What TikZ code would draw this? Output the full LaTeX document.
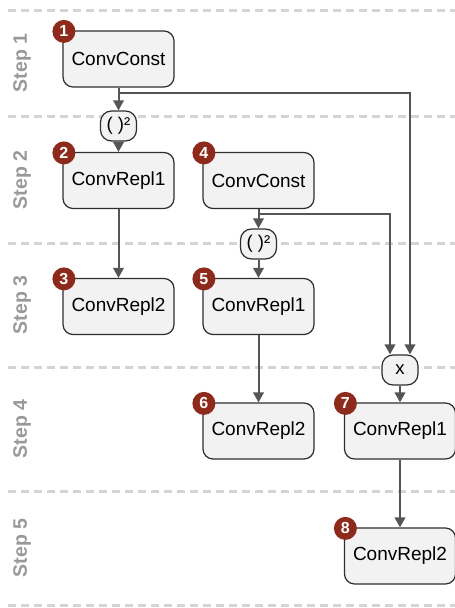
\documentclass[tikz,border=0pt]{standalone}
\usepackage{fontspec}
\setmainfont{Liberation Sans}
\usetikzlibrary{arrows.meta,calc}
\definecolor{boxfill}{HTML}{F2F2F2}
\definecolor{boxline}{HTML}{2E2E2E}
\definecolor{badgered}{HTML}{8E2A1C}
\definecolor{linegray}{HTML}{555555}
\definecolor{lanegray}{HTML}{D4D4D4}
\definecolor{steptext}{HTML}{999999}
\begin{document}
\begin{tikzpicture}[x=1pt,y=-1pt,
  block/.style={draw=boxline, fill=boxfill, rounded corners=10pt, line width=1.2pt,
    minimum width=111pt, minimum height=56pt, inner sep=0pt,
    font=\fontsize{19}{21}\selectfont},
  op/.style={draw=boxline, fill=boxfill, rounded corners=11pt, line width=1.2pt,
    minimum width=36pt, minimum height=30pt, inner sep=0pt,
    font=\fontsize{18.5}{20}\selectfont},
  badge/.style={circle, fill=badgered, text=white, minimum size=23pt, inner sep=0pt,
    font=\bfseries\fontsize{16}{16}\selectfont},
  flow/.style={draw=linegray, line width=2pt, -{Triangle[length=10pt,width=10.5pt]}},
  lane/.style={draw=lanegray, line width=3pt, dash pattern=on 8pt off 5pt},
  steplabel/.style={rotate=90, text=steptext, font=\bfseries\fontsize{19.5}{20}\selectfont}
]
\useasboundingbox (0,0) rectangle (455,608);

% swimlane separators
\foreach \yy in {10,116,243,367,491,605}
  \draw[lane] (8,\yy) -- (455,\yy);

% step labels
\node[steplabel] (s1) at (22,63) {Step 1};
\node[steplabel] (s2) at (22,180) {Step 2};
\node[steplabel] (s3) at (22,305) {Step 3};
\node[steplabel] (s4) at (22,429) {Step 4};
\node[steplabel] (s5) at (22,548) {Step 5};

% blocks
\node[block] (n1) at (118.5,59)  {ConvConst};
\node[block] (n2) at (118.5,180.5) {ConvRepl1};
\node[block] (n3) at (118.5,306.5) {ConvRepl2};
\node[block] (n4) at (258.5,180.5) {ConvConst};
\node[block] (n5) at (258.5,306.5) {ConvRepl1};
\node[block] (n6) at (258.5,431) {ConvRepl2};
\node[block] (n7) at (400,431) {ConvRepl1};
\node[block] (n8) at (400,556) {ConvRepl2};

% operators
\node[op] (sq1) at (118.5,126) {( )²};
\node[op] (sq2) at (258.5,244) {( )²};
\node[op] (mul) at (400,370) {x};

% numbered badges
\foreach \n in {1,...,8}
  \node[badge] (b\n) at ($(n\n.north west)+(1.5,1)$) {\n};

% junctions
\coordinate (j1) at ($(n1.south)+(0,5)$);
\coordinate (j4) at ($(n4.south)+(0,5)$);

% connectors
\draw[flow] (n1.south) -- (sq1.north);
\draw[flow] (sq1.south) -- (n2.north);
\draw[flow] (n2.south) -- (n3.north);
\draw[flow] (n4.south) -- (sq2.north);
\draw[flow] (sq2.south) -- (n5.north);
\draw[flow] (n5.south) -- (n6.north);
\draw[flow] (j1) -| ([xshift=10pt]mul.north);
\draw[flow] (j4) -| ([xshift=-10pt]mul.north);
\draw[flow] (mul.south) -- (n7.north);
\draw[flow] (n7.south) -- (n8.north);
\end{tikzpicture}
\end{document}
